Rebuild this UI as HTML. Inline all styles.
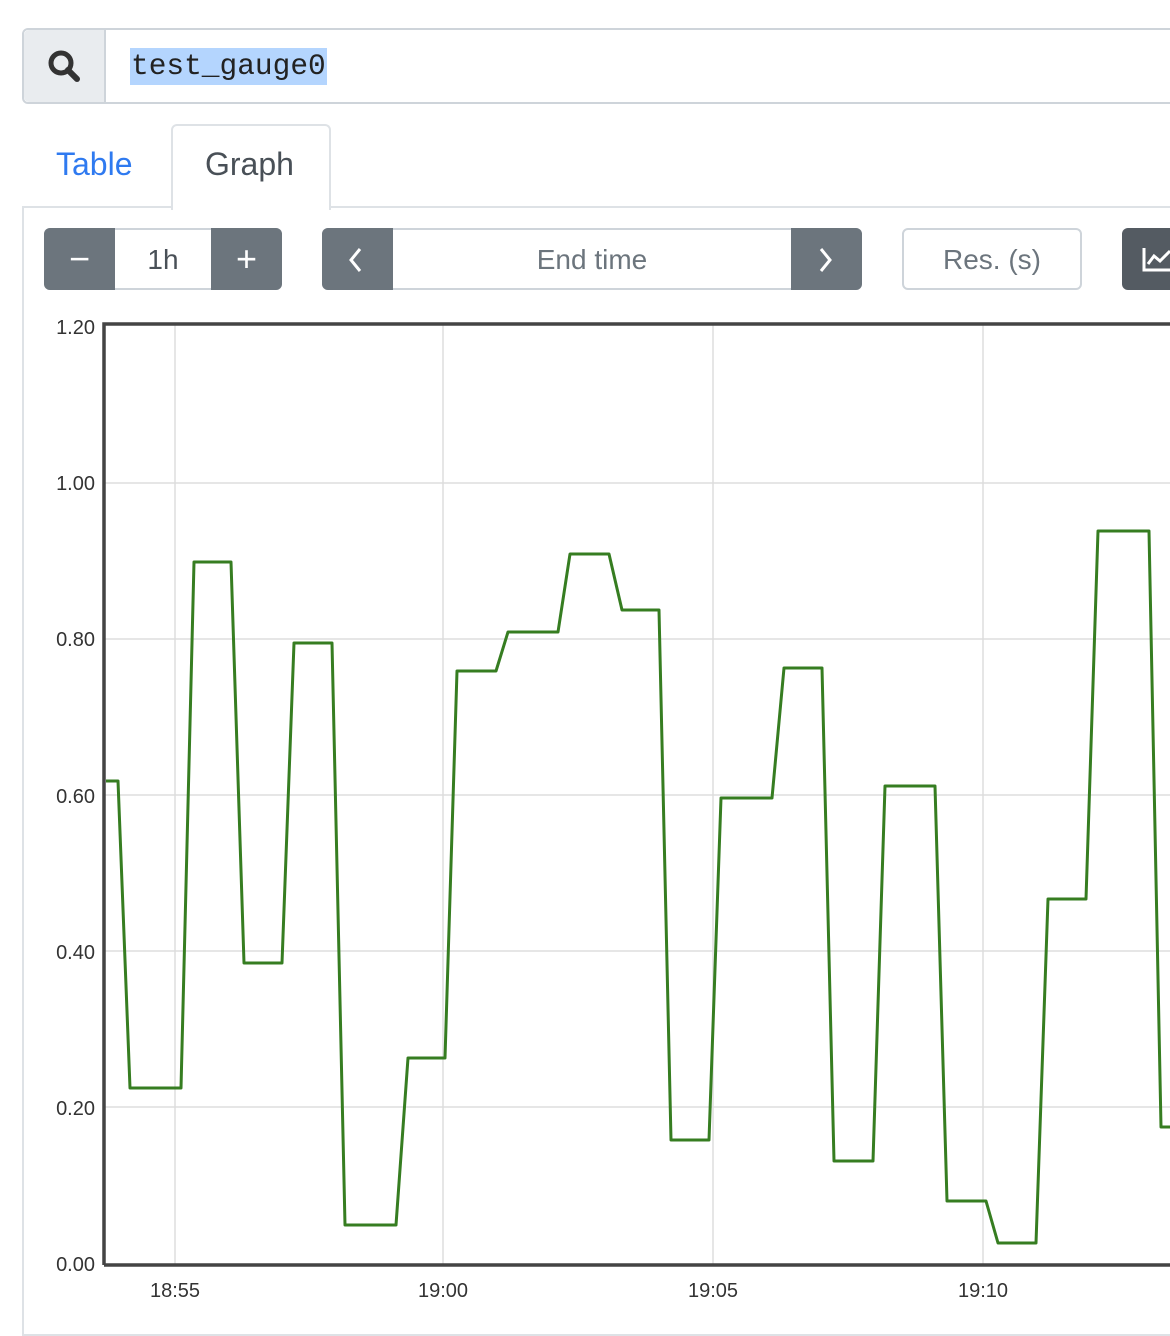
<!DOCTYPE html>
<html><head><style>
body{margin:0;width:1170px;height:1324px;overflow:hidden;background:#fff;font-family:"Liberation Sans",sans-serif;position:relative}
.a{position:absolute;box-sizing:border-box}
</style></head><body>
<div class="a" style="left:22px;top:28px;width:1160px;height:76px;border:2px solid #ced4da;border-radius:6px;"></div>
<div class="a" style="left:24px;top:30px;width:82px;height:72px;background:#e9ecef;border-right:2px solid #ced4da;border-radius:5px 0 0 5px"></div>
<svg class="a" style="left:46px;top:48px" width="36" height="36" viewBox="0 0 36 36"><circle cx="15" cy="15" r="10" fill="none" stroke="#333" stroke-width="5"/><line x1="22" y1="22" x2="31" y2="31" stroke="#333" stroke-width="6" stroke-linecap="round"/></svg>
<div class="a" style="left:130px;top:48px;height:37px;background:#b4d5fe;font-family:'Liberation Mono',monospace;font-size:29.5px;line-height:37px;color:#222;padding:0 1px">test_gauge0</div>
<div class="a" style="left:56px;top:146px;font-size:32px;color:#2f7af0">Table</div>
<div class="a" style="left:171px;top:124px;width:160px;height:86px;border:2px solid #dee2e6;border-bottom:none;border-radius:6px 6px 0 0;background:#fff;z-index:2"></div>
<div class="a" style="left:205px;top:146px;font-size:32px;color:#495057;z-index:3">Graph</div>
<div class="a" style="left:22px;top:206px;width:1160px;height:1130px;border:2px solid #dee2e6;"></div>
<div class="a" style="left:44px;top:228px;width:238px;height:62px;border:2px solid #ced4da;border-radius:6px;background:#fff"></div>
<div class="a" style="left:44px;top:228px;width:71px;height:62px;background:#6c757d;border-radius:6px 0 0 6px;color:#fff;font-size:36px;text-align:center;line-height:62px">−</div>
<div class="a" style="left:211px;top:228px;width:71px;height:62px;background:#6c757d;border-radius:0 6px 6px 0;color:#fff;font-size:36px;text-align:center;line-height:62px">+</div>
<div class="a" style="left:115px;top:228px;width:96px;height:62px;font-size:28px;color:#495057;text-align:center;line-height:64px">1h</div>
<div class="a" style="left:322px;top:228px;width:540px;height:62px;border:2px solid #ced4da;border-radius:6px"></div>
<div class="a" style="left:322px;top:228px;width:71px;height:62px;background:#6c757d;border-radius:6px 0 0 6px"></div>
<svg class="a" style="left:346px;top:246px" width="20" height="28"><polyline points="14,3 5,14 14,25" fill="none" stroke="#fff" stroke-width="3"/></svg>
<div class="a" style="left:791px;top:228px;width:71px;height:62px;background:#6c757d;border-radius:0 6px 6px 0"></div>
<svg class="a" style="left:816px;top:246px" width="20" height="28"><polyline points="5,3 14,14 5,25" fill="none" stroke="#fff" stroke-width="3"/></svg>
<div class="a" style="left:393px;top:228px;width:398px;height:62px;font-size:28px;color:#6c757d;text-align:center;line-height:64px">End time</div>
<div class="a" style="left:902px;top:228px;width:180px;height:62px;border:2px solid #ced4da;border-radius:6px;font-size:28px;color:#6c757d;text-align:center;line-height:60px">Res. (s)</div>
<div class="a" style="left:1122px;top:228px;width:60px;height:62px;background:#545b62;border-radius:6px 0 0 6px"></div>
<svg class="a" style="left:1142px;top:246px" width="28" height="26"><polyline points="2,2 2,24 28,24" fill="none" stroke="#fff" stroke-width="3"/><polyline points="6,18 12,10 18,15 28,5" fill="none" stroke="#fff" stroke-width="3"/></svg>
<svg class="a" style="left:0;top:0" width="1170" height="1324">
<g stroke="#ddd" stroke-width="1.5">
<line x1="104" y1="483" x2="1170" y2="483"/><line x1="104" y1="639" x2="1170" y2="639"/><line x1="104" y1="795" x2="1170" y2="795"/><line x1="104" y1="951" x2="1170" y2="951"/><line x1="104" y1="1107" x2="1170" y2="1107"/>
<line x1="175" y1="324" x2="175" y2="1265"/><line x1="443" y1="324" x2="443" y2="1265"/><line x1="713" y1="324" x2="713" y2="1265"/><line x1="983" y1="324" x2="983" y2="1265"/>
</g>
<path d="M104,1265 V324 H1172 M104,1265 H1172" fill="none" stroke="#444" stroke-width="3.5"/>
<polyline fill="none" stroke="#367d21" stroke-width="3" stroke-linejoin="round" points="106,781 118,781 130,1088 181,1088 194,562 231,562 244,963 282,963 294,643 332,643 345,1225 396,1225 408,1058 445,1058 457,671 496,671 508,632 558,632 570,554 609,554 622,610 659,610 671,1140 709,1140 721,798 772,798 784,668 822,668 834,1161 873,1161 885,786 935,786 947,1201 986,1201 998,1243 1036,1243 1048,899 1086,899 1098,531 1149,531 1161,1127 1172,1127"/>
<g font-size="20" fill="#333" text-anchor="end" font-family="Liberation Sans,sans-serif">
<text x="95" y="334">1.20</text><text x="95" y="490">1.00</text><text x="95" y="646">0.80</text><text x="95" y="803">0.60</text><text x="95" y="959">0.40</text><text x="95" y="1115">0.20</text><text x="95" y="1271">0.00</text>
</g>
<g font-size="20" fill="#333" text-anchor="middle" font-family="Liberation Sans,sans-serif">
<text x="175" y="1297">18:55</text><text x="443" y="1297">19:00</text><text x="713" y="1297">19:05</text><text x="983" y="1297">19:10</text>
</g>
</svg>
</body></html>
